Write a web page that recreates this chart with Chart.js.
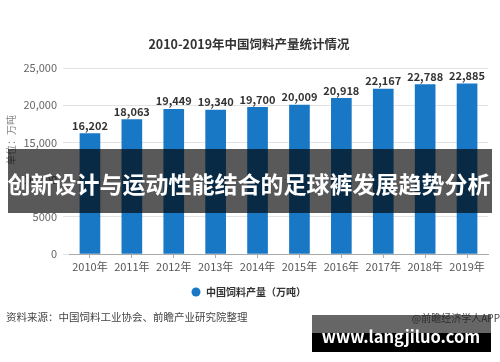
<!DOCTYPE html>
<html>
<head>
<meta charset="utf-8">
<script src="https://cdn.jsdelivr.net/npm/chart.js@4"></script>
<style>
html,body{margin:0;padding:0;background:#fff;}
#wrap{position:relative;width:500px;height:362px;}
canvas{display:block;}
</style>
</head>
<body>
<div id="wrap"><canvas id="c" width="500" height="362"></canvas></div>
<script>
const categories = ['2010年','2011年','2012年','2013年','2014年','2015年','2016年','2017年','2018年','2019年'];
const production = [16202, 18063, 19449, 19340, 19700, 20009, 20918, 22167, 22788, 22885];
const yTicks = [0, 5000, 10000, 15000, 20000, 25000];
const chartTitle = '2010-2019年中国饲料产量统计情况';
const seriesName = '中国饲料产量（万吨）';
const yAxisTitle = '单位：万吨';
const sourceText = '资料来源：中国饲料工业协会、前瞻产业研究院整理';
const creditText = '@前瞻经济学人APP';
const bannerText = '创新设计与运动性能结合的足球裤发展趋势分析';
const siteText = 'www.langjiluo.com';

const FONT = '"Microsoft YaHei","Noto Sans CJK SC","Noto Sans",sans-serif';
const BAR = '#1878c6';

const overlay = {
  id: 'overlay',
  afterDatasetsDraw(chart) {
    const ctx = chart.ctx;
    ctx.save();
    const meta = chart.getDatasetMeta(0);
    ctx.font = 'bold 11px ' + FONT;
    ctx.fillStyle = '#333';
    ctx.textAlign = 'center';
    ctx.textBaseline = 'middle';
    meta.data.forEach((el, i) => {
      ctx.fillText(production[i].toLocaleString('en-US'), el.x, el.y - 8);
    });
    ctx.restore();
  },
  afterDraw(chart) {
    const ctx = chart.ctx;
    ctx.save();
    ctx.font = 'bold 12.5px ' + FONT;
    ctx.fillStyle = '#333';
    ctx.textAlign = 'center';
    ctx.textBaseline = 'middle';
    ctx.fillText(chartTitle, 249, 44);
    ctx.save();
    ctx.translate(11, 140);
    ctx.rotate(-Math.PI / 2);
    ctx.font = '10px ' + FONT;
    ctx.fillStyle = '#888';
    ctx.fillText(yAxisTitle, 0, 0);
    ctx.restore();
    ctx.fillStyle = BAR;
    ctx.beginPath();
    ctx.arc(196, 292, 4.5, 0, Math.PI * 2);
    ctx.fill();
    ctx.font = 'bold 10px ' + FONT;
    ctx.fillStyle = '#333';
    ctx.textAlign = 'left';
    ctx.fillText(seriesName, 206, 292);
    ctx.font = '10.5px ' + FONT;
    ctx.fillStyle = '#444';
    ctx.fillText(sourceText, 6, 317);
    ctx.fillStyle = 'rgba(0,0,0,0.65)';
    ctx.fillRect(8, 149, 484, 64);
    ctx.font = 'bold 23px ' + FONT;
    ctx.fillStyle = '#fff';
    ctx.textAlign = 'center';
    ctx.fillText(bannerText, 249, 184);
    ctx.fillStyle = 'rgba(0,0,0,0.6)';
    ctx.fillRect(312, 315, 179, 18);
    ctx.fillStyle = '#000';
    ctx.fillRect(312, 333, 179, 19);
    ctx.font = '10px ' + FONT;
    ctx.fillStyle = 'rgba(30,30,30,0.85)';
    ctx.textAlign = 'right';
    ctx.fillText(creditText, 500, 318);
    ctx.font = 'bold 16.5px ' + FONT;
    ctx.fillStyle = '#fff';
    ctx.textAlign = 'center';
    ctx.fillText(siteText, 401, 337);
    ctx.restore();
  }
};

new Chart(document.getElementById('c'), {
  type: 'bar',
  data: {
    labels: categories,
    datasets: [{
      label: seriesName,
      data: production,
      backgroundColor: BAR,
      barThickness: 20
    }]
  },
  options: {
    responsive: false,
    animation: false,
    layout: { padding: { top: 68, right: 12, bottom: 0, left: 0 } },
    plugins: { legend: { display: false }, tooltip: { enabled: false }, title: { display: false } },
    scales: {
      x: {
        afterFit(scale) { scale.height = 108; },
        grid: { offset: false, drawOnChartArea: false, drawTicks: true, tickLength: 4, color: '#aaa' },
        border: { display: true, color: '#aaa' },
        ticks: { color: '#555', font: { size: 11, family: FONT }, padding: 2, maxRotation: 0, autoSkip: false }
      },
      y: {
        min: 0, max: 25000,
        afterFit(scale) { scale.width = 69; },
        afterBuildTicks(scale) { scale.ticks = yTicks.map(v => ({ value: v })); },
        grid: { color: '#e3e3e3', tickLength: 6 },
        border: { display: false },
        ticks: {
          color: '#666', font: { size: 11, family: FONT }, padding: 6,
          callback: v => v >= 10000 ? v.toLocaleString('en-US') : String(v)
        }
      }
    }
  },
  plugins: [overlay]
});
</script>
</body>
</html>
